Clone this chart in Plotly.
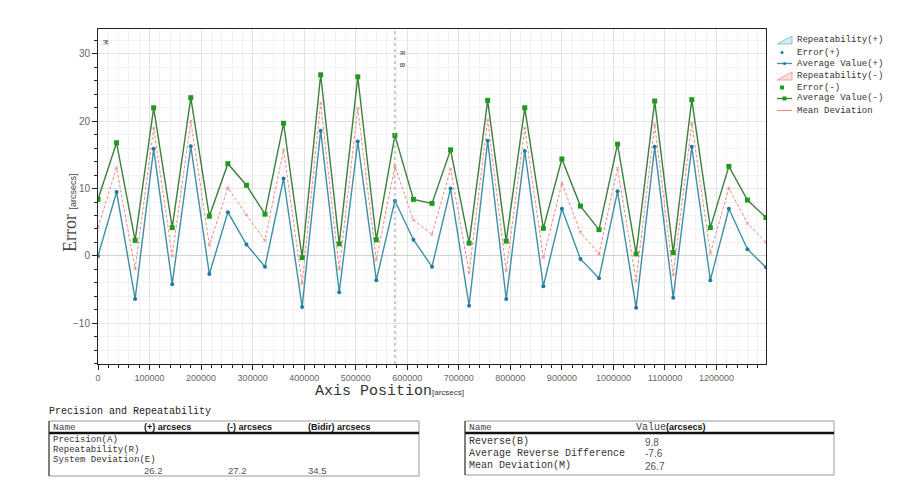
import plotly.graph_objects as go

# ---------------- data ----------------
positions = [0, 36000, 72000, 108000, 144000, 180000, 216000, 252000, 288000, 324000,
             360000, 396000, 432000, 468000, 504000, 540000, 576000, 612000, 648000, 684000,
             720000, 756000, 792000, 828000, 864000, 900000, 936000, 972000, 1008000, 1044000,
             1080000, 1116000, 1152000, 1188000, 1224000, 1260000, 1296000]

avg_minus = [8.4, 16.8, 2.3, 22.0, 4.2, 23.5, 5.9, 13.7, 10.5, 6.2,
             19.7, -0.25, 26.9, 1.8, 26.6, 2.4, 17.9, 8.4, 7.8, 15.75,
             1.9, 23.1, 2.2, 22.0, 4.1, 14.4, 7.4, 3.9, 16.6, 0.3,
             23.0, 0.5, 23.2, 4.2, 13.3, 8.3, 5.7]

avg_plus = [0.0, 9.5, -6.4, 15.9, -4.2, 16.3, -2.7, 6.5, 1.7, -1.6,
            11.5, -7.6, 18.6, -5.4, 17.0, -3.6, 8.2, 2.4, -1.6, 10.0,
            -7.4, 17.1, -6.4, 15.6, -4.5, 7.0, -0.45, -3.3, 9.6, -7.7,
            16.2, -6.2, 16.2, -3.6, 7.0, 1.0, -1.7]

mean_dev = [4.2, 13.1, -1.9, 19.0, 0.0, 20.0, 1.6, 10.1, 6.1, 2.3,
            15.75, -4.1, 22.7, -2.0, 21.9, -0.6, 13.3, 5.35, 3.2, 12.9,
            -2.5, 20.2, -2.2, 19.0, -0.25, 10.8, 3.5, 0.3, 13.0, -3.7,
            19.5, -2.8, 19.7, 0.4, 10.05, 4.85, 2.0]

reverse_position = 576000

legend_labels = ["Repeatability(+)", "Error(+)", "Average Value(+)", "Repeatability(-)",
                 "Error(-)", "Average Value(-)", "Mean Deviation"]

left_title = "Precision and Repeatability"
left_headers = ["Name", "(+) arcsecs", "(-) arcsecs", "(Bidir) arcsecs"]
left_rows = ["Precision(A)", "Repeatability(R)", "System Deviation(E)"]
left_values = ["26.2", "27.2", "34.5"]

right_headers = ["Name", "Value"]
right_rows = ["Reverse(B)", "Average Reverse Difference", "Mean Deviation(M)"]
right_values = ["9.8", "-7.6", "26.7"]

# ---------------- layout helpers ----------------
OFF = 8                      # page body margin
W, H = 900 - OFF, 482 - OFF  # figure size
L, R, T, B = 98, 766, 29, 364  # plot area in window pixels


def px(x):
    return (x - L) / (R - L)


def py(y):
    return (B - y) / (B - T)


GREEN_LINE = "#3d7f3d"
GREEN_MK = "#1f9a1f"
BLUE_LINE = "#3f8fa6"
BLUE_MK = "#1c7aa3"
RED = "#f08a82"
MONO = "Liberation Mono"
SANS = "Liberation Sans"

fig = go.Figure()

fig.add_trace(go.Scatter(x=positions, y=mean_dev, mode="lines+markers",
                         line=dict(color=RED, width=1, dash="3px,2px"),
                         marker=dict(color=RED, size=3, symbol="x-thin",
                                     line=dict(color=RED, width=1)),
                         name="Mean Deviation"))
fig.add_trace(go.Scatter(x=positions, y=avg_plus, mode="lines+markers",
                         line=dict(color=BLUE_LINE, width=1.4),
                         marker=dict(color=BLUE_MK, size=4, symbol="circle"),
                         name="Average Value(+)"))
fig.add_trace(go.Scatter(x=positions, y=avg_minus, mode="lines+markers",
                         line=dict(color=GREEN_LINE, width=1.4),
                         marker=dict(color=GREEN_MK, size=5, symbol="square"),
                         name="Average Value(-)"))

shapes = []
annotations = []


def note(x, y, text, font, xanchor="left", yanchor="middle", **kw):
    annotations.append(dict(xref="paper", yref="paper", x=px(x), y=py(y), text=text,
                            showarrow=False, xanchor=xanchor, yanchor=yanchor,
                            font=font, **kw))


# reverse position marker line
shapes.append(dict(type="line", xref="x", yref="paper", x0=reverse_position, x1=reverse_position,
                   y0=0, y1=1, line=dict(color="#9a9a9a", width=1, dash="dot")))
note(402, 53, "R", dict(family=MONO, size=7, color="#444"), xanchor="center", textangle=90)
note(402, 65, "B", dict(family=MONO, size=7, color="#444"), xanchor="center", textangle=90)
note(105, 42, "M", dict(family=MONO, size=8, color="#444"), xanchor="center", textangle=90)

# axis titles
note(70, 213, "Error <span style='font-size:9px;font-family:Liberation Sans'>[arcsecs]</span>",
     dict(family="Liberation Serif", size=18, color="#444"), xanchor="center", textangle=-90)
note(313, 391, "Axis Position<span style='font-size:8px;font-family:Liberation Sans'>[arcsecs]</span>",
     dict(family=MONO, size=15, color="#333"))

# ---------------- manual legend ----------------
leg_y = [40, 52.5, 63.5, 76.5, 87.5, 98.5, 110.5]
for lab, yy in zip(legend_labels, leg_y):
    note(795, yy, lab, dict(family=MONO, size=9, color="#333"))
shapes.append(dict(type="path", xref="paper", yref="paper",
                   path=f"M {px(777)} {py(44)} L {px(792)} {py(36)} L {px(792)} {py(44)} Z",
                   fillcolor="#d6ecf2", line=dict(color="#8cc3d3", width=1)))
shapes.append(dict(type="circle", xref="paper", yref="paper",
                   x0=px(780.5), x1=px(783.5), y0=py(54), y1=py(51),
                   fillcolor=BLUE_MK, line=dict(width=0)))
shapes.append(dict(type="line", xref="paper", yref="paper", x0=px(777), x1=px(792),
                   y0=py(63.5), y1=py(63.5), line=dict(color=BLUE_LINE, width=1.3)))
shapes.append(dict(type="circle", xref="paper", yref="paper",
                   x0=px(783), x1=px(786), y0=py(65), y1=py(62),
                   fillcolor=BLUE_MK, line=dict(width=0)))
shapes.append(dict(type="path", xref="paper", yref="paper",
                   path=f"M {px(777)} {py(80)} L {px(792)} {py(72)} L {px(792)} {py(80)} Z",
                   fillcolor="#f8dcdc", line=dict(color="#eea3a3", width=1)))
shapes.append(dict(type="rect", xref="paper", yref="paper",
                   x0=px(780), x1=px(784), y0=py(89.5), y1=py(85.5),
                   fillcolor=GREEN_MK, line=dict(width=0)))
shapes.append(dict(type="line", xref="paper", yref="paper", x0=px(777), x1=px(792),
                   y0=py(98.5), y1=py(98.5), line=dict(color=GREEN_LINE, width=1.3)))
shapes.append(dict(type="rect", xref="paper", yref="paper",
                   x0=px(782.5), x1=px(786.5), y0=py(100.5), y1=py(96.5),
                   fillcolor=GREEN_MK, line=dict(width=0)))
shapes.append(dict(type="line", xref="paper", yref="paper", x0=px(777), x1=px(792),
                   y0=py(110.5), y1=py(110.5), line=dict(color=RED, width=1.2)))

# ---------------- left table ----------------
note(47, 411, left_title, dict(family=MONO, size=10, color="#222"))
tl, tr, tt, tb = 49, 419, 421, 476
shapes.append(dict(type="rect", xref="paper", yref="paper", x0=px(tl), x1=px(tr),
                   y0=py(tb), y1=py(tt), line=dict(color="#999", width=1)))
shapes.append(dict(type="line", xref="paper", yref="paper", x0=px(tl), x1=px(tr),
                   y0=py(433), y1=py(433), line=dict(color="#111", width=2.5)))
shapes.append(dict(type="line", xref="paper", yref="paper", x0=px(tl), x1=px(tl),
                   y0=py(tb), y1=py(tt), line=dict(color="#333", width=1)))
hx = [51, 142, 225, 306]
for i, (h, x) in enumerate(zip(left_headers, hx)):
    if i == 0:
        note(x, 427, h, dict(family=MONO, size=9.5, color="#444"))
    else:
        note(x, 427, f"<b>{h}</b>", dict(family=SANS, size=9, color="#111"))
for r, yy in zip(left_rows, [439.5, 449.5, 459.5]):
    note(51, yy, r, dict(family=MONO, size=9, color="#333"))
for v, x in zip(left_values, [142, 226, 306]):
    note(x, 470, v, dict(family=SANS, size=9.5, color="#555"))

# ---------------- right table ----------------
rl, rr, rt, rb = 465, 834, 421, 475
shapes.append(dict(type="rect", xref="paper", yref="paper", x0=px(rl), x1=px(rr),
                   y0=py(rb), y1=py(rt), line=dict(color="#999", width=1)))
shapes.append(dict(type="line", xref="paper", yref="paper", x0=px(rl), x1=px(rr),
                   y0=py(433), y1=py(433), line=dict(color="#111", width=2.5)))
shapes.append(dict(type="line", xref="paper", yref="paper", x0=px(rl), x1=px(rl),
                   y0=py(rb), y1=py(rt), line=dict(color="#333", width=1)))
note(467, 427, right_headers[0], dict(family=MONO, size=9.5, color="#444"))
note(634, 427, right_headers[1] + "<span style='font-family:Liberation Sans;font-size:9px;color:#111'><b>(arcsecs)</b></span>",
     dict(family=MONO, size=10, color="#444"))
for r, v, yy in zip(right_rows, right_values, [441, 453, 465]):
    note(467, yy, r, dict(family=MONO, size=10, color="#333"))
    note(643, yy + 1, v, dict(family=SANS, size=10, color="#555"))

fig.update_layout(
    width=W, height=H,
    margin=dict(l=L - OFF, r=W - (R - OFF), t=T - OFF, b=H - (B - OFF), pad=0),
    paper_bgcolor="white", plot_bgcolor="white",
    showlegend=False,
    shapes=shapes, annotations=annotations,
    xaxis=dict(range=[0, 1296000], tickmode="linear", tick0=0, dtick=100000,
               tickformat="d", showgrid=True, gridcolor="#e2e2e2", gridwidth=1,
               zeroline=False, showline=True, linecolor="#222", linewidth=1, mirror=True,
               ticks="outside", ticklen=5, tickcolor="#222",
               tickfont=dict(family=SANS, size=9, color="#666"),
               minor=dict(dtick=20000, ticklen=3, ticks="outside", tickcolor="#222",
                          showgrid=True, gridcolor="#f2f2f2")),
    yaxis=dict(range=[-16.05, 33.7], tickmode="linear", tick0=0, dtick=10,
               showgrid=True, gridcolor="#e2e2e2", gridwidth=1,
               zeroline=True, zerolinecolor="#d2d2d2", zerolinewidth=1,
               showline=True, linecolor="#222", linewidth=1, mirror=True,
               ticks="outside", ticklen=5, tickcolor="#222",
               tickfont=dict(family=SANS, size=10, color="#666"),
               minor=dict(dtick=2, ticklen=3, ticks="outside", tickcolor="#222",
                          showgrid=True, gridcolor="#f2f2f2")),
)

fig.write_html("out.html")
